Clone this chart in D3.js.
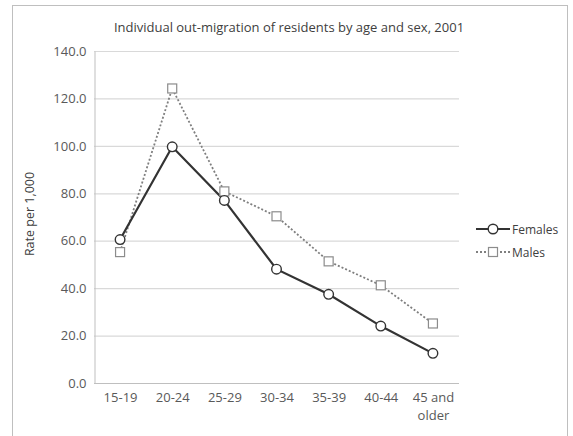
<!DOCTYPE html>
<html><head><meta charset="utf-8">
<script src="https://cdn.jsdelivr.net/npm/d3@7"></script>
<style>body{margin:0;background:#fff;} text{font-family:"Open Sans","Liberation Sans",sans-serif;}</style>
</head><body>
<svg id="chart" width="573" height="436"></svg>
<script>
const categories = ["15-19","20-24","25-29","30-34","35-39","40-44","45 and older"];
const females = [60.5, 99.6, 77.0, 48.0, 37.4, 24.0, 12.5];
const males = [55.2, 124.2, 80.8, 70.3, 51.3, 41.2, 25.1];
const yTicks = [0,20,40,60,80,100,120,140];
const title = "Individual out-migration of residents by age and sex, 2001";
const yTitle = "Rate per 1,000";

const svg = d3.select("#chart");
svg.append("rect").attr("x",12.5).attr("y",5.5).attr("width",555).attr("height",440)
  .attr("fill","#fff").attr("stroke","#bfbfbf").attr("stroke-width",1);

const m = {l:94, r:459, t:51, b:383};
const x = d3.scalePoint().domain(categories).range([m.l, m.r]).padding(0.5);
const y = d3.scaleLinear().domain([0,140]).range([m.b, m.t]);

// gridlines
svg.append("g").selectAll("line").data(yTicks.filter(d=>d>0)).join("line")
  .attr("x1",m.l).attr("x2",m.r).attr("y1",d=>y(d)+0.5).attr("y2",d=>y(d)+0.5)
  .attr("stroke","#d9d9d9").attr("stroke-width",1.2);

// y axis
const ya = svg.append("g").attr("transform",`translate(${m.l+0.5},0)`)
  .call(d3.axisLeft(y).tickValues(yTicks).tickFormat(d3.format(".1f")).tickSize(0).tickPadding(8));
ya.select(".domain").attr("stroke","#bfbfbf");
ya.selectAll("text").attr("fill","#595959").attr("font-size","13px");

// x axis
const xa = svg.append("g").attr("transform",`translate(0,${m.b+0.5})`)
  .call(d3.axisBottom(x).tickSize(0).tickPadding(9));
xa.select(".domain").attr("stroke","#bfbfbf").attr("d",`M${m.l},0H${m.r}`);
xa.selectAll("text").attr("fill","#595959").attr("font-size","13px")
  .each(function(d){
    const t = d3.select(this);
    if (d === "45 and older") {
      t.text(null);
      t.append("tspan").attr("x",0).attr("dy","0.71em").text("45 and");
      t.append("tspan").attr("x",0).attr("dy","1.4em").text("older");
    }
  });

// lines
const line = d3.line().x((d,i)=>x(categories[i])).y(d=>y(d));
svg.append("path").datum(males).attr("d",line).attr("fill","none")
  .attr("stroke","#7f7f7f").attr("stroke-width",1.8).attr("stroke-dasharray","2,2");
svg.append("path").datum(females).attr("d",line).attr("fill","none")
  .attr("stroke","#333").attr("stroke-width",2.2);

svg.append("g").selectAll("rect").data(males).join("rect")
  .attr("x",(d,i)=>x(categories[i])-4.5).attr("y",d=>y(d)-4.5)
  .attr("width",9).attr("height",9).attr("fill","#fff").attr("stroke","#8c8c8c").attr("stroke-width",1.2);
svg.append("g").selectAll("circle").data(females).join("circle")
  .attr("cx",(d,i)=>x(categories[i])).attr("cy",d=>y(d)).attr("r",4.8)
  .attr("fill","#fff").attr("stroke","#333").attr("stroke-width",1.4);

// title
svg.append("text").attr("x",289).attr("y",32).attr("text-anchor","middle")
  .attr("font-size","13px").attr("fill","#404040").text(title);
svg.append("text").attr("transform","translate(34,214) rotate(-90)").attr("text-anchor","middle")
  .attr("font-size","12.5px").attr("fill","#404040").text(yTitle);

// legend
const lg = svg.append("g");
lg.append("line").attr("x1",476).attr("x2",510).attr("y1",229).attr("y2",229).attr("stroke","#333").attr("stroke-width",2.2);
lg.append("circle").attr("cx",493).attr("cy",229).attr("r",4.8).attr("fill","#fff").attr("stroke","#333").attr("stroke-width",1.4);
lg.append("text").attr("x",512).attr("y",233.5).attr("font-size","12px").attr("fill","#404040").text("Females");
lg.append("line").attr("x1",476).attr("x2",510).attr("y1",252).attr("y2",252).attr("stroke","#7f7f7f").attr("stroke-width",1.8).attr("stroke-dasharray","2,2");
lg.append("rect").attr("x",488.5).attr("y",247.5).attr("width",9).attr("height",9).attr("fill","#fff").attr("stroke","#8c8c8c").attr("stroke-width",1.2);
lg.append("text").attr("x",512).attr("y",256.5).attr("font-size","12px").attr("fill","#404040").text("Males");
</script>
</body></html>
